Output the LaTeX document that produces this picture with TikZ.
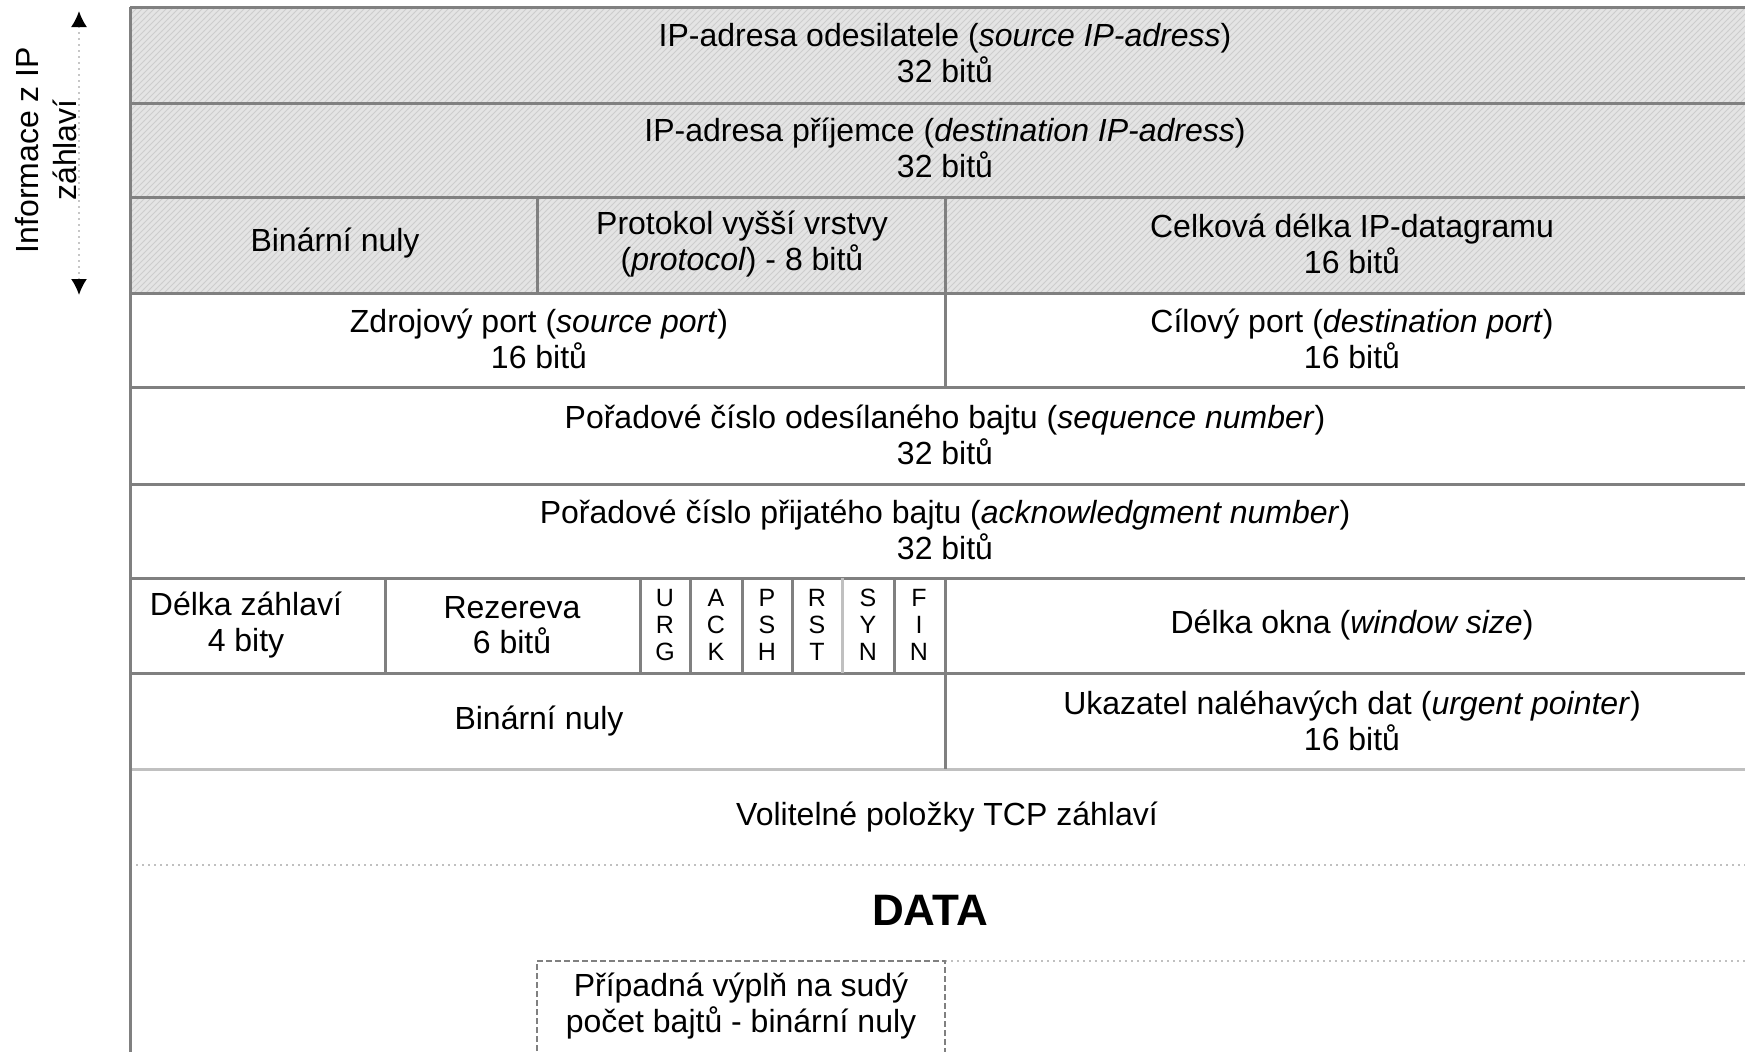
\documentclass[tikz,border=0pt]{standalone}
\usepackage{fontspec}
\setmainfont{Liberation Sans}
\usetikzlibrary{patterns,arrows.meta}
\definecolor{rulegray}{HTML}{808080}
\definecolor{lightrule}{HTML}{C0C0C0}
\definecolor{hatchbg}{HTML}{E4E4E4}
\definecolor{hatchline}{HTML}{CDCDCD}

\begin{document}
\begin{tikzpicture}[x=0.5pt,y=-0.5pt,
	field/.style={align=center,inner sep=0pt,
		font=\fontsize{16}{17.8}\selectfont},
	flag/.style={align=center,inner sep=0pt,
		font=\fontsize{12.5}{13.5}\selectfont},
	rule/.style={draw=rulegray,line width=1.5pt},
	thinrule/.style={draw=lightrule,line width=1.5pt},
	dotrule/.style={draw=lightrule,line width=1pt,dotted},
	padbox/.style={draw=rulegray,line width=1pt,dash pattern=on 3pt off 1.5pt}]

	\useasboundingbox (0,0) rectangle (1745,1051);
	\clip (0,0) rectangle (1745,1051);

	\fill[hatchbg] (130,7) rectangle (1760,293);
	\fill[pattern=north east lines,pattern color=hatchline] (130,7) rectangle (1760,293);

	\foreach \y in {7,103,197,293,387,484,578,673}
		\draw[rule] (130,\y) -- (1760,\y);
	\draw[thinrule] (130,769) -- (1760,769);
	\draw[dotrule] (130,865) -- (1760,865);
	\draw[dotrule] (945,961) -- (1760,961);
	\draw[rule] (130,7) -- (130,1060);
	\draw[rule] (537,197) -- (537,293);
	\draw[rule] (945,197) -- (945,387);
	\draw[rule] (945,578) -- (945,769);
	\foreach \x in {385,640,690,742,792,894}
		\draw[rule] (\x,578) -- (\x,673);
	\draw[thinrule] (842,578) -- (842,673);
	\draw[padbox] (537,1060) -- (537,961) -- (945,961) -- (945,1060);

	\node[field] (srcip) at (945,53) {IP-adresa odesilatele (\textit{source IP-adress})\\32 bitů};
	\node[field] (dstip) at (945,148) {IP-adresa příjemce (\textit{destination IP-adress})\\32 bitů};
	\node[field] (zeros) at (335,243) {Binární nuly};
	\node[field] (proto) at (742,244) {Protokol vyšší vrstvy\\(\textit{protocol}) - 8 bitů};
	\node[field] (iplen) at (1352,244) {Celková délka IP-datagramu\\16 bitů};
	\node[field] (srcport) at (539,339) {Zdrojový port (\textit{source port})\\16 bitů};
	\node[field] (dstport) at (1352,339) {Cílový port (\textit{destination port})\\16 bitů};
	\node[field] (seq) at (945,435) {Pořadové číslo odesílaného bajtu (\textit{sequence number})\\32 bitů};
	\node[field] (ack) at (945,530) {Pořadové číslo přijatého bajtu (\textit{acknowledgment number})\\32 bitů};
	\node[field] (hlen) at (246,625) {Délka záhlaví\\4 bity};
	\node[field] (resv) at (512,625) {Rezereva\\6 bitů};
	\foreach \x/\f [count=\i] in {665/{U\\R\\G},716/{A\\C\\K},767/{P\\S\\H},817/{R\\S\\T},868/{S\\Y\\N},919/{F\\I\\N}}
		\node[flag] (flag\i) at (\x,625) {\f};
	\node[field] (window) at (1352,625) {Délka okna (\textit{window size})};
	\node[field] (zeros2) at (539,721) {Binární nuly};
	\node[field] (urgent) at (1352,721) {Ukazatel naléhavých dat (\textit{urgent pointer})\\16 bitů};
	\node[field] (options) at (947,817) {Volitelné položky TCP záhlaví};
	\node[field,font=\fontsize{22}{24}\selectfont\bfseries] (data) at (930,910) {DATA};
	\node[field] (padding) at (741,1006) {Případná výplň na sudý\\počet bajtů - binární nuly};

	\node[field,rotate=90,font=\fontsize{16}{19}\selectfont] (iplabel) at (46,150) {Informace z IP\\záhlaví};
	\coordinate (iptop) at (79,11);
	\coordinate (ipbot) at (79,295);
	\draw[draw=gray!45,line width=1pt,dotted,
		{Latex[black,length=8pt,width=8pt]}-{Latex[black,length=8pt,width=8pt]}] (iptop) -- (ipbot);
\end{tikzpicture}
\end{document}
